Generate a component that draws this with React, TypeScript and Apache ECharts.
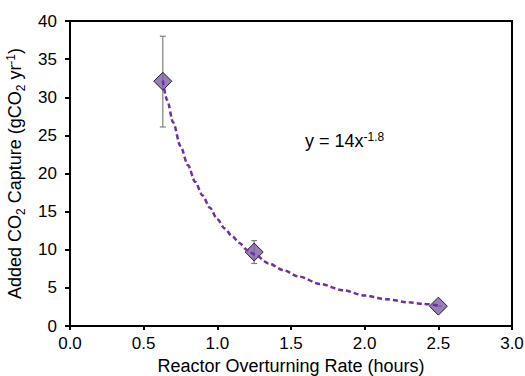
import React, { useEffect, useRef } from "react";
import * as echarts from "echarts";

const FONT = "'Liberation Sans', Arial, Helvetica, sans-serif";

// Measured points (overturning rate, added CO2 capture)
const rateHours = [0.63, 1.25, 2.5];
const capture = [32.1, 9.7, 2.6];
const errLow = [26.1, 8.2, 2.6];
const errHigh = [38.0, 11.2, 2.6];

// Trendline samples
const trendX = [0.63, 0.66, 0.7, 0.75, 0.8, 0.85, 0.9, 0.95, 1.0, 1.05, 1.1, 1.15, 1.2, 1.25, 1.35, 1.45, 1.55, 1.7, 1.85, 2.0, 2.15, 2.3, 2.4, 2.5];
const trendY = [32.2, 29.6, 26.7, 23.6, 21.1, 18.9, 17.1, 15.5, 14.0, 12.8, 11.8, 10.9, 10.0, 9.4, 8.2, 7.3, 6.5, 5.5, 4.7, 4.0, 3.5, 3.1, 2.9, 2.7];

const xTicks = { min: 0, max: 3, interval: 0.5 };
const yTicks = { min: 0, max: 40, interval: 5 };

export default function App() {
  const ref = useRef<HTMLDivElement>(null);
  useEffect(() => {
    if (!ref.current) return;
    const chart = echarts.init(ref.current, undefined, { renderer: "svg" });
    const points = rateHours.map((x, i) => [x, capture[i]]);
    const errData = rateHours.map((x, i) => [x, errLow[i], errHigh[i]]);
    const trend = trendX.map((x, i) => [x, trendY[i]]);
    chart.setOption({
      animation: false,
      backgroundColor: "#fff",
      textStyle: { fontFamily: FONT },
      grid: {
        left: 70,
        top: 21,
        right: 13,
        bottom: 50,
        containLabel: false,
        outerBoundsMode: "none",
        show: true,
        borderColor: "#000",
        borderWidth: 2,
        backgroundColor: "transparent",
      },
      xAxis: {
        type: "value",
        min: xTicks.min,
        max: xTicks.max,
        interval: xTicks.interval,
        splitLine: { show: false },
        axisLine: { show: true, onZero: false, lineStyle: { color: "#000", width: 2 } },
        axisTick: { show: true, length: 4, lineStyle: { color: "#000", width: 2 } },
        axisLabel: {
          color: "#000",
          fontSize: 17,
          fontFamily: FONT,
          margin: 9,
          formatter: (v: number) => v.toFixed(1),
        },
        name: "Reactor Overturning Rate (hours)",
        nameLocation: "middle",
        nameGap: 30,
        nameTextStyle: { color: "#000", fontSize: 18, fontFamily: FONT },
      },
      yAxis: {
        type: "value",
        min: yTicks.min,
        max: yTicks.max,
        interval: yTicks.interval,
        splitLine: { show: false },
        axisLine: { show: true, onZero: false, lineStyle: { color: "#000", width: 2 } },
        axisTick: { show: true, length: 5, lineStyle: { color: "#000", width: 2 } },
        axisLabel: { color: "#000", fontSize: 17, fontFamily: FONT, margin: 13 },
        name: "{a|Added CO}{s|2}{a| Capture (gCO}{s|2}{a| yr}{p|-1}{a|)}",
        nameLocation: "middle",
        nameGap: 38,
        nameTextStyle: {
          color: "#000",
          fontFamily: FONT,
          rich: {
            a: { fontSize: 18, lineHeight: 20, color: "#000", fontFamily: FONT, verticalAlign: "middle" },
            s: { fontSize: 12, lineHeight: 20, color: "#000", fontFamily: FONT, verticalAlign: "bottom", padding: [0, 0, -2, 0] },
            p: { fontSize: 12, lineHeight: 20, color: "#000", fontFamily: FONT, verticalAlign: "top" },
          },
        },
      },
      series: [
        {
          type: "custom",
          name: "error",
          z: 1,
          renderItem: (params: any, api: any) => {
            const x = api.value(0);
            const lo = api.coord([x, api.value(1)]);
            const hi = api.coord([x, api.value(2)]);
            const hw = 3;
            const style = { stroke: "#7f7f7f", lineWidth: 1.2 };
            return {
              type: "group",
              children: [
                { type: "line", shape: { x1: lo[0], y1: lo[1], x2: hi[0], y2: hi[1] }, style },
                { type: "line", shape: { x1: lo[0] - hw, y1: lo[1], x2: lo[0] + hw, y2: lo[1] }, style },
                { type: "line", shape: { x1: hi[0] - hw, y1: hi[1], x2: hi[0] + hw, y2: hi[1] }, style },
              ],
            };
          },
          encode: { x: 0, y: [1, 2] },
          data: errData,
        },
        {
          type: "scatter",
          name: "data",
          z: 2,
          symbol: "diamond",
          symbolSize: 18,
          itemStyle: { color: "#7d5ea6", borderColor: "#000", borderWidth: 1 },
          data: points,
        },
        {
          type: "line",
          name: "trend",
          z: 3,
          smooth: 0.3,
          smoothMonotone: "x",
          showSymbol: false,
          symbol: "none",
          lineStyle: { color: "#7030a0", width: 2.5, type: [5, 3] },
          data: trend,
        },
      ],
      graphic: [
        {
          type: "text",
          left: 305,
          top: 131,
          style: {
            text: "{a|y = 14x}{p|-1.8}",
            fontFamily: FONT,
            rich: {
              a: { fontSize: 18, lineHeight: 20, fill: "#000", fontFamily: FONT, verticalAlign: "middle" },
              p: { fontSize: 12, lineHeight: 20, fill: "#000", fontFamily: FONT, verticalAlign: "top" },
            },
          },
        },
      ],
    });
    return () => chart.dispose();
  }, []);
  return (
    <div
      ref={ref}
      style={{ position: "absolute", left: 0, top: 0, width: 525, height: 376 }}
    />
  );
}
